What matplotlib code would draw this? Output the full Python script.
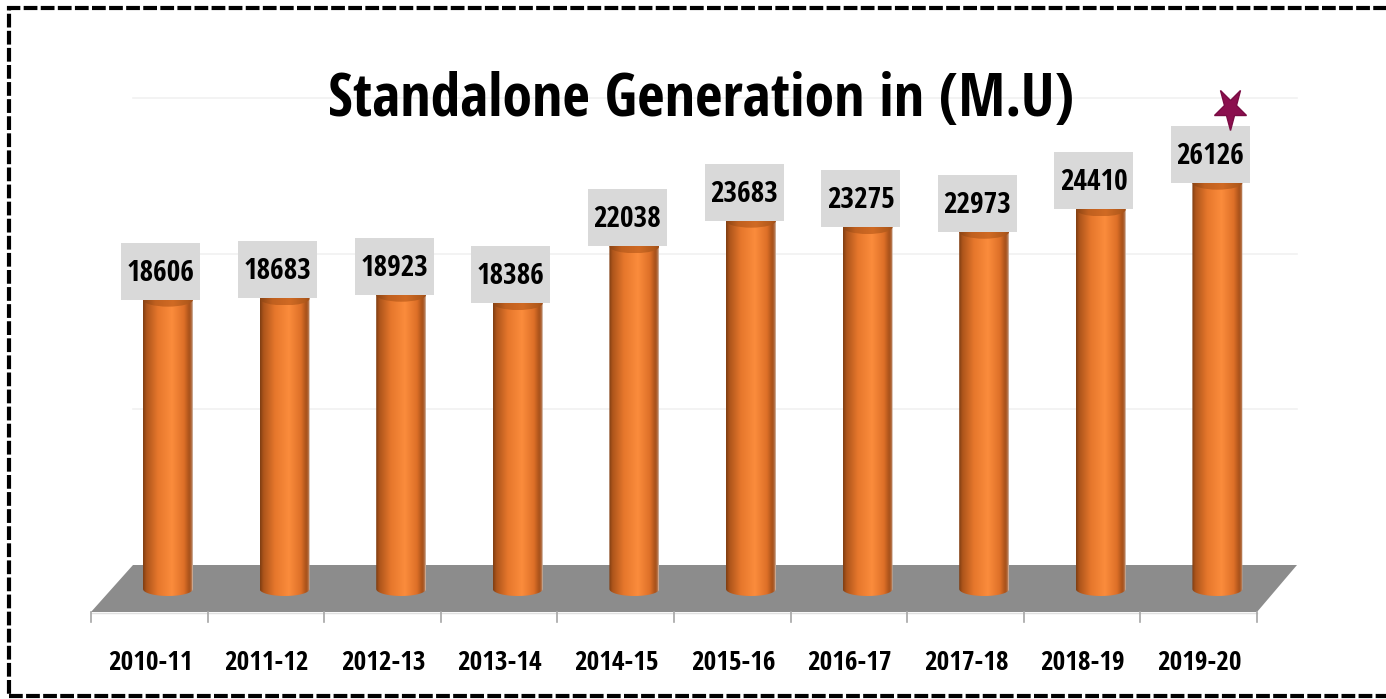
import matplotlib
matplotlib.use('Agg')
import matplotlib.pyplot as plt
import numpy as np
from matplotlib import font_manager
from matplotlib.patches import Rectangle, Polygon, Ellipse
from matplotlib.path import Path
from matplotlib.colors import LinearSegmentedColormap
from matplotlib.markers import MarkerStyle
from matplotlib.transforms import Affine2D

# ---------------- data ----------------
categories = ['2010-11', '2011-12', '2012-13', '2013-14', '2014-15',
              '2015-16', '2016-17', '2017-18', '2018-19', '2019-20']
values = [18606, 18683, 18923, 18386, 22038, 23683, 23275, 22973, 24410, 26126]
title = 'Standalone Generation in (M.U)'
grid_values = [10000, 20000, 30000]

# ---------------- fonts ----------------
bold_names = {f.name for f in font_manager.fontManager.ttflist
              if f.weight in (700, 'bold')}
prefs = ['Open Sans Condensed', 'Fira Sans Extra Condensed', 'PT Sans Narrow',
         'Roboto Condensed', 'Asap Condensed', 'Fira Sans Condensed',
         'Barlow Semi Condensed', 'Archivo Narrow', 'Cabin Condensed',
         'Liberation Sans Narrow', 'Liberation Sans']
font = next((n for n in prefs if n in bold_names), 'DejaVu Sans')
fam = [font, 'DejaVu Sans']

W, H = 1386, 699
fig = plt.figure(figsize=(W / 100, H / 100), dpi=100)
fig.patch.set_facecolor('white')
ax = fig.add_axes([0, 0, 1, 1])
ax.axis('off')

X0, DX, Y0, K = 168.0, 116.6, 589.0, 64.3   # pixel mapping of data space


def px(x, y):
    return ((x - X0) / DX, (Y0 - y) * K)


r = fig.canvas.get_renderer()


def fit_size(s, target_w, base=40):
    tt = fig.text(0, 0, s, fontsize=base, fontweight='bold', family=fam)
    wd = tt.get_window_extent(r).width
    tt.remove()
    return base * target_w / wd


# ---------------- back wall gridlines ----------------
for g in grid_values:
    yy = 565 - g / K
    a, b = px(133, yy), px(1297, yy)
    ax.plot([a[0], b[0]], [a[1], b[1]], color='#f1f1f1', lw=1.2, zorder=0)

# ---------------- floor ----------------
floor = Polygon([px(91, 612), px(1257, 612), px(1297, 565), px(133, 565)],
                closed=True, facecolor='#8c8c8c', edgecolor='none', zorder=1)
ax.add_patch(floor)
a, b = px(91, 613), px(1257, 613)
ax.plot([a[0], b[0]], [a[1], b[1]], color='#e0e0e0', lw=1, zorder=1)
for i in range(len(categories) + 1):
    a, b = px(91 + DX * i, 612), px(91 + DX * i, 622)
    ax.plot([a[0], b[0]], [a[1], b[1]], color='#a6a6a6', lw=1.2, zorder=1)

# ---------------- cylinders ----------------
cyl = LinearSegmentedColormap.from_list('cyl', [
    (0.00, '#7e3d12'), (0.07, '#ad551b'), (0.30, '#e6772c'),
    (0.58, '#fb8c3c'), (0.82, '#de7028'), (0.93, '#a8511a'),
    (0.97, '#b0683a'), (1.00, '#d4c0b2')])
cyl_top = LinearSegmentedColormap.from_list('cyltop', [
    (0.00, '#8a4414'), (0.25, '#c0601f'), (0.6, '#d06a24'),
    (0.9, '#b25a1c'), (1.00, '#a0501a')])

val_fs = fit_size('18606', 68)
cat_fs = fit_size('2010-11', 84)

w = 50 / DX
eh = 14 * K
x = np.arange(len(categories))
bars = ax.bar(x, values, width=w, color='#f0843a', linewidth=0, zorder=3)
grad = np.linspace(0, 1, 256).reshape(1, -1)
for rect, v in zip(bars, values):
    x0 = rect.get_x()
    x1 = x0 + rect.get_width()
    cx = (x0 + x1) / 2
    th = np.linspace(np.pi, 2 * np.pi, 60)
    verts = [(x0, v), (x0, 0)]
    verts += list(zip(cx + (w / 2) * np.cos(th), (eh / 2) * np.sin(th)))
    verts += [(x1, 0), (x1, v), (x0, v)]
    path = Path(verts, closed=True)
    rect.set_visible(False)
    im = ax.imshow(grad, cmap=cyl, extent=[x0, x1, -eh / 2, v],
                   aspect='auto', interpolation='bilinear', zorder=3)
    im.set_clip_path(path, ax.transData)
    top = Ellipse((cx, v), w, eh, transform=ax.transData)
    im2 = ax.imshow(grad, cmap=cyl_top, extent=[x0, x1, v - eh / 2, v + eh / 2],
                    aspect='auto', interpolation='bilinear', zorder=4)
    im2.set_clip_path(top)

    # value label box
    bw, bh = 79 / DX, 57 * K
    bx = cx - 7 / DX
    ax.add_patch(Rectangle((bx - bw / 2, v), bw, bh, facecolor='#d9d9d9',
                           edgecolor='none', zorder=5))
    ax.text(bx, v + bh / 2 - 2 * K, f'{v}', ha='center', va='center',
            fontsize=val_fs, fontweight='bold', family=fam, color='black',
            zorder=6)

# ---------------- category labels ----------------
for i, c in enumerate(categories):
    ax.text(i - 18 / DX, (Y0 - 662) * K, c, ha='center', va='center',
            fontsize=cat_fs, fontweight='bold', family=fam, color='black')

# ---------------- star ----------------
sx, sy = px(1230, 108)
star = MarkerStyle('*', transform=Affine2D().scale(1, 1.3).rotate_deg(180))
ax.plot([sx], [sy], marker=star, markersize=24, color='#8b0f4e',
        markeredgecolor='#7a0c44', zorder=6)

# ---------------- title ----------------
tx, ty = px(701, 116)
ax.text(tx, ty, title, ha='center', va='baseline',
        fontsize=fit_size(title, 745), fontweight='bold', family=fam,
        color='black')

# ---------------- border ----------------
border = Rectangle((9 / W, 1 - 696 / H), (1400 - 9) / W, (696 - 8) / H,
                   transform=fig.transFigure, fill=False, edgecolor='black',
                   lw=3, linestyle=(0, (3.3, 0.8)), clip_on=False)
fig.patches.append(border)

ax.set_xlim((0 - X0) / DX, (W - X0) / DX)
ax.set_ylim((Y0 - H) * K, Y0 * K)

fig.savefig('out.png', dpi=100, facecolor='white')
